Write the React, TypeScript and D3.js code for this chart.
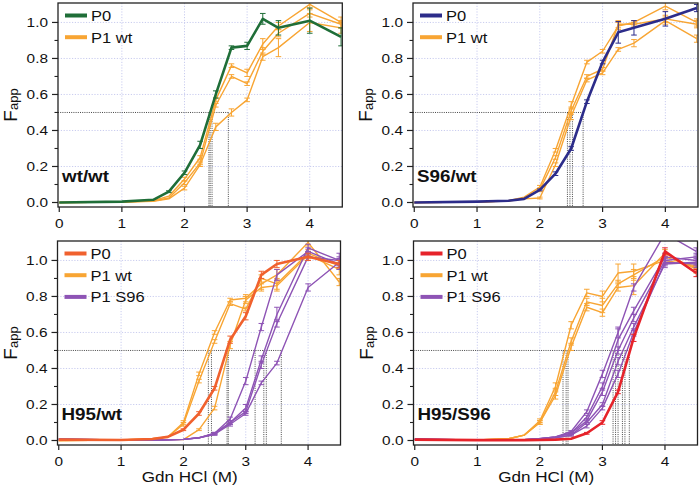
import React from "react";
import * as d3 from "d3";

// ---------- data ----------
const XS = [0, 1, 1.5, 1.75, 2, 2.25, 2.5, 2.75, 3, 3.25, 3.5, 4, 4.5];
const X_TICKS = [0, 1, 2, 3, 4];
const X_TICK_LABELS = ["0", "1", "2", "3", "4"];
const Y_TICKS = [0, 0.2, 0.4, 0.6, 0.8, 1.0];
const Y_TICK_LABELS = ["0.0", "0.2", "0.4", "0.6", "0.8", "1.0"];
const Y_MINOR = [0.1, 0.3, 0.5, 0.7, 0.9];
const PANEL_LABELS = ["wt/wt", "S96/wt", "H95/wt", "H95/S96"];
const X_TITLE = "Gdn HCl (M)";

// panel A: wt/wt
const A_P0 = [0, 0.005, 0.015, 0.06, 0.165, 0.32, 0.6, 0.86, 0.87, 1.02, 0.97, 1.01, 0.92];
const A_P0_ERR = [0, 0, 0, 0.005, 0.01, 0.02, 0.02, 0.01, 0.02, 0.03, 0.04, 0.07, 0.05];
const A_WT1 = [0, 0.003, 0.01, 0.035, 0.13, 0.25, 0.57, 0.76, 0.72, 0.88, 0.98, 1.1, 1.0];
const A_WT1_ERR = [0, 0, 0, 0, 0.01, 0.01, 0.01, 0.01, 0.02, 0.03, 0.02, 0.02, 0.03];
const A_WT2 = [0, 0.003, 0.008, 0.025, 0.11, 0.22, 0.54, 0.7, 0.66, 0.84, 0.94, 1.05, 0.99];
const A_WT2_ERR = [0, 0, 0, 0, 0.01, 0.01, 0.01, 0.01, 0.01, 0.02, 0.02, 0.02, 0.02];
const A_WT3 = [0, 0.002, 0.006, 0.02, 0.08, 0.21, 0.42, 0.5, 0.57, 0.81, 0.86, 1.0, 0.97];
const A_WT3_ERR = [0, 0, 0, 0, 0.01, 0.01, 0.02, 0.02, 0.01, 0.02, 0.05, 0.05, 0.03];
const A_MID = [2.39, 2.41, 2.44, 2.7];

// panel B: S96/wt
const B_P0 = [0, 0.005, 0.01, 0.02, 0.07, 0.16, 0.3, 0.56, 0.78, 0.945, 0.97, 1.02, 1.08];
const B_P0_ERR = [0, 0, 0, 0, 0.005, 0.01, 0.01, 0.01, 0.01, 0.06, 0.04, 0.04, 0.02];
const B_WT1 = [0, 0.003, 0.01, 0.03, 0.085, 0.29, 0.54, 0.78, 0.84, 0.98, 1.0, 1.09, 1.0];
const B_WT1_ERR = [0, 0, 0, 0, 0.01, 0.01, 0.02, 0.01, 0.01, 0.02, 0.01, 0.02, 0.02];
const B_WT2 = [0, 0.003, 0.01, 0.025, 0.07, 0.25, 0.51, 0.7, 0.74, 0.99, 0.99, 1.02, 0.99];
const B_WT2_ERR = [0, 0, 0, 0, 0.01, 0.01, 0.02, 0.01, 0.01, 0.02, 0.01, 0.02, 0.02];
const B_WT3 = [0, 0.002, 0.008, 0.02, 0.025, 0.21, 0.48, 0.68, 0.72, 0.85, 0.885, 1.01, 0.91];
const B_WT3_ERR = [0, 0, 0, 0, 0.005, 0.01, 0.02, 0.01, 0.01, 0.01, 0.02, 0.02, 0.02];
const B_MID = [2.44, 2.48, 2.52, 2.69];

// panel C: H95/wt
const C_P0 = [0.005, 0.003, 0.008, 0.02, 0.06, 0.15, 0.29, 0.56, 0.69, 0.92, 0.98, 1.02, 0.98];
const C_P0_ERR = [0, 0, 0, 0, 0.005, 0.01, 0.01, 0.02, 0.02, 0.02, 0.02, 0.02, 0.02];
const C_WT1 = [0, 0.003, 0.01, 0.02, 0.1, 0.37, 0.6, 0.78, 0.79, 0.87, 0.92, 1.1, 0.88];
const C_WT1_ERR = [0, 0, 0, 0, 0.01, 0.01, 0.01, 0.01, 0.02, 0.03, 0.03, 0.02, 0.02];
const C_WT2 = [0, 0.003, 0.01, 0.02, 0.09, 0.33, 0.55, 0.76, 0.73, 0.9, 0.87, 1.04, 0.97];
const C_WT2_ERR = [0, 0, 0, 0, 0.01, 0.01, 0.01, 0.01, 0.01, 0.02, 0.03, 0.02, 0.02];
const C_WT3 = [0, 0.002, 0.004, 0.005, 0.005, 0.06, 0.18, 0.53, 0.78, 0.85, 0.86, 1.03, 0.95];
const C_WT3_ERR = [0, 0, 0, 0, 0, 0.005, 0.01, 0.02, 0.02, 0.02, 0.03, 0.02, 0.03];
const C_S1 = [0.01, 0.002, 0.003, 0.004, 0.006, 0.015, 0.04, 0.12, 0.33, 0.63, 0.92, 1.05, 0.98];
const C_S1_ERR = [0, 0, 0, 0, 0, 0, 0.005, 0.01, 0.02, 0.02, 0.03, 0.02, 0.03];
const C_S2 = [0.01, 0.002, 0.003, 0.004, 0.006, 0.015, 0.04, 0.1, 0.18, 0.45, 0.7, 1.07, 1.0];
const C_S2_ERR = [0, 0, 0, 0, 0, 0, 0.005, 0.01, 0.02, 0.02, 0.04, 0.02, 0.04];
const C_S3 = [0.005, 0.002, 0.003, 0.004, 0.006, 0.015, 0.035, 0.1, 0.16, 0.42, 0.65, 1.02, 1.0];
const C_S3_ERR = [0, 0, 0, 0, 0, 0, 0.005, 0.01, 0.01, 0.02, 0.02, 0.02, 0.02];
const C_S4 = [0.005, 0.002, 0.003, 0.004, 0.006, 0.015, 0.035, 0.09, 0.15, 0.32, 0.43, 0.85, 0.99];
const C_S4_ERR = [0, 0, 0, 0, 0, 0, 0.005, 0.01, 0.01, 0.01, 0.01, 0.02, 0.02];
const C_MID = [2.4, 2.45, 2.7, 2.72, 3.15, 3.29, 3.33, 3.57];

// panel D: H95/S96
const D_P0 = [0.005, 0.002, 0.002, 0.002, 0.003, 0.005, 0.01, 0.04, 0.1, 0.27, 0.57, 1.05, 0.93];
const D_P0_ERR = [0, 0, 0, 0, 0, 0, 0, 0.005, 0.01, 0.01, 0.02, 0.02, 0.02];
const D_WT1 = [0.005, 0.003, 0.01, 0.03, 0.11, 0.3, 0.64, 0.82, 0.8, 0.93, 0.94, 1.0, 0.97];
const D_WT1_ERR = [0, 0, 0, 0, 0.01, 0.02, 0.02, 0.02, 0.03, 0.05, 0.04, 0.02, 0.02];
const D_WT2 = [0.005, 0.003, 0.01, 0.03, 0.1, 0.27, 0.55, 0.77, 0.75, 0.87, 0.92, 1.02, 0.96];
const D_WT2_ERR = [0, 0, 0, 0, 0.01, 0.02, 0.02, 0.02, 0.04, 0.02, 0.03, 0.02, 0.02];
const D_WT3 = [0.005, 0.003, 0.01, 0.03, 0.1, 0.25, 0.52, 0.74, 0.71, 0.85, 0.86, 1.04, 0.95];
const D_WT3_ERR = [0, 0, 0, 0, 0.01, 0.02, 0.02, 0.02, 0.02, 0.02, 0.05, 0.02, 0.02];
const D_S1 = [0.01, 0.002, 0.003, 0.005, 0.01, 0.02, 0.05, 0.16, 0.37, 0.6, 0.85, 1.15, 1.05];
const D_S1_ERR = [0, 0, 0, 0, 0, 0, 0.005, 0.01, 0.02, 0.03, 0.02, 0.02, 0.02];
const D_S2 = [0.01, 0.002, 0.003, 0.005, 0.01, 0.02, 0.04, 0.13, 0.3, 0.56, 0.72, 1.02, 1.0];
const D_S2_ERR = [0, 0, 0, 0, 0, 0, 0.005, 0.01, 0.02, 0.06, 0.02, 0.02, 0.02];
const D_S3 = [0.005, 0.002, 0.003, 0.005, 0.01, 0.02, 0.04, 0.11, 0.27, 0.5, 0.68, 1.0, 1.02];
const D_S3_ERR = [0, 0, 0, 0, 0, 0, 0.005, 0.01, 0.02, 0.02, 0.02, 0.02, 0.02];
const D_S4 = [0.005, 0.002, 0.003, 0.005, 0.01, 0.015, 0.03, 0.1, 0.2, 0.44, 0.63, 0.98, 0.99];
const D_S4_ERR = [0, 0, 0, 0, 0, 0, 0.005, 0.01, 0.01, 0.02, 0.02, 0.02, 0.02];
const D_S5 = [0.005, 0.002, 0.003, 0.005, 0.01, 0.015, 0.03, 0.08, 0.18, 0.37, 0.6, 0.99, 0.98];
const D_S5_ERR = [0, 0, 0, 0, 0, 0, 0.005, 0.01, 0.01, 0.02, 0.02, 0.02, 0.02];
const D_MID = [2.37, 2.42, 2.45, 3.17, 3.21, 3.25, 3.32, 3.36, 3.43];

// ---------- styles ----------
const P0_COLORS = ["#1f6e38", "#2c2c8a", "#f0612e", "#e6232a"];
const WT_COLOR = "#f8a533";
const S96_COLOR = "#8e54b5";
const GRID_COLOR = "#c9ccef";
const FONT = "'Liberation Sans', Arial, Helvetica, sans-serif";
const SX = 1.14;

const BOXES = [
  { left: 58, right: 342.3, top: 3, bottom: 207 },
  { left: 413, right: 698, top: 3, bottom: 207 },
  { left: 57.5, right: 340.5, top: 241, bottom: 445 },
  { left: 413.5, right: 697.5, top: 241, bottom: 445 },
];

type Series = { values: number[]; err: number[]; color: string; width: number };

const PANELS = [
  {
    p0: { values: A_P0, err: A_P0_ERR },
    wt: [[A_WT1, A_WT1_ERR], [A_WT2, A_WT2_ERR], [A_WT3, A_WT3_ERR]],
    s96: [] as number[][][],
    mids: A_MID,
  },
  {
    p0: { values: B_P0, err: B_P0_ERR },
    wt: [[B_WT1, B_WT1_ERR], [B_WT2, B_WT2_ERR], [B_WT3, B_WT3_ERR]],
    s96: [] as number[][][],
    mids: B_MID,
  },
  {
    p0: { values: C_P0, err: C_P0_ERR },
    wt: [[C_WT1, C_WT1_ERR], [C_WT2, C_WT2_ERR], [C_WT3, C_WT3_ERR]],
    s96: [[C_S1, C_S1_ERR], [C_S2, C_S2_ERR], [C_S3, C_S3_ERR], [C_S4, C_S4_ERR]],
    mids: C_MID,
  },
  {
    p0: { values: D_P0, err: D_P0_ERR },
    wt: [[D_WT1, D_WT1_ERR], [D_WT2, D_WT2_ERR], [D_WT3, D_WT3_ERR]],
    s96: [[D_S1, D_S1_ERR], [D_S2, D_S2_ERR], [D_S3, D_S3_ERR], [D_S4, D_S4_ERR], [D_S5, D_S5_ERR]],
    mids: D_MID,
  },
];

function Txt(props: {
  x: number; y: number; size: number; anchor?: string; weight?: string | number; children: any; fill?: string;
}) {
  const { x, y, size, anchor = "start", weight = "normal", children, fill = "#111" } = props;
  return (
    <g transform={`translate(${x},${y}) scale(${SX},1)`}>
      <text x={0} y={0} fontSize={size} fontFamily={FONT} fontWeight={weight} textAnchor={anchor} fill={fill}>
        {children}
      </text>
    </g>
  );
}

function Panel({ idx }: { idx: number }) {
  const box = BOXES[idx];
  const pd = PANELS[idx];
  const x = d3.scaleLinear().domain([-0.02, 4.52]).range([box.left, box.right]);
  const y = d3.scaleLinear().domain([-0.025, 1.108]).range([box.bottom, box.top]);
  const line = d3
    .line<[number, number]>()
    .x((d) => x(d[0]))
    .y((d) => y(d[1]));

  const series: Series[] = [];
  pd.wt.forEach((s) => series.push({ values: s[0], err: s[1], color: WT_COLOR, width: 1.4 }));
  pd.s96.forEach((s) => series.push({ values: s[0], err: s[1], color: S96_COLOR, width: 1.4 }));
  series.push({ values: pd.p0.values, err: pd.p0.err, color: P0_COLORS[idx], width: 2.6 });

  const clipId = `clip${idx}`;
  const legend =
    pd.s96.length > 0
      ? [
          { label: "P0", color: P0_COLORS[idx] },
          { label: "P1 wt", color: WT_COLOR },
          { label: "P1 S96", color: S96_COLOR },
        ]
      : [
          { label: "P0", color: P0_COLORS[idx] },
          { label: "P1 wt", color: WT_COLOR },
        ];
  const maxMid = d3.max(pd.mids) as number;
  const isBottom = idx >= 2;
  const midY = (box.top + box.bottom) / 2;

  return (
    <g>
      <defs>
        <clipPath id={clipId}>
          <rect x={box.left} y={box.top} width={box.right - box.left} height={box.bottom - box.top} />
        </clipPath>
      </defs>
      {/* grid */}
      {[1, 2, 3, 4].map((t) => (
        <line key={"gx" + t} x1={x(t)} x2={x(t)} y1={box.top} y2={box.bottom} stroke={GRID_COLOR} strokeWidth={1} strokeDasharray="1.2 1.6" />
      ))}
      {[0.2, 0.4, 0.6, 0.8, 1.0].map((t) => (
        <line key={"gy" + t} x1={box.left} x2={box.right} y1={y(t)} y2={y(t)} stroke={GRID_COLOR} strokeWidth={1} strokeDasharray="1.2 1.6" />
      ))}
      {/* midpoint guides */}
      <line x1={box.left} x2={x(maxMid)} y1={y(0.5)} y2={y(0.5)} stroke="#333" strokeWidth={0.9} strokeDasharray="1 1.2" />
      {pd.mids.map((m, i) => (
        <line key={"m" + i} x1={x(m)} x2={x(m)} y1={y(0.5)} y2={box.bottom} stroke="#333" strokeWidth={0.9} strokeDasharray="1 1.2" />
      ))}
      {/* data */}
      <g clipPath={`url(#${clipId})`}>
        {series.map((s, si) => {
          const pts = XS.map((xv, i) => [xv, s.values[i]] as [number, number]);
          return (
            <g key={"s" + si}>
              <path d={line(pts) || ""} fill="none" stroke={s.color} strokeWidth={s.width} strokeLinejoin="round" />
              {pts.map((p, i) =>
                s.err[i] > 0 ? (
                  <g key={"e" + i} stroke={s.color} strokeWidth={1}>
                    <line x1={x(p[0])} x2={x(p[0])} y1={y(p[1] - s.err[i])} y2={y(p[1] + s.err[i])} />
                    <line x1={x(p[0]) - 2.8} x2={x(p[0]) + 2.8} y1={y(p[1] + s.err[i])} y2={y(p[1] + s.err[i])} />
                    <line x1={x(p[0]) - 2.8} x2={x(p[0]) + 2.8} y1={y(p[1] - s.err[i])} y2={y(p[1] - s.err[i])} />
                  </g>
                ) : null
              )}
            </g>
          );
        })}
      </g>
      {/* frame */}
      <rect x={box.left} y={box.top} width={box.right - box.left} height={box.bottom - box.top} fill="none" stroke="#222" strokeWidth={1.3} />
      {/* y ticks */}
      {Y_TICKS.map((t, i) => (
        <g key={"yt" + i}>
          <line x1={box.left - 6} x2={box.left} y1={y(t)} y2={y(t)} stroke="#222" strokeWidth={1.2} />
          <Txt x={box.left - 10} y={y(t) + 4.7} size={13.5} anchor="end">
            {Y_TICK_LABELS[i]}
          </Txt>
        </g>
      ))}
      {Y_MINOR.map((t, i) => (
        <line key={"ym" + i} x1={box.left - 3.5} x2={box.left} y1={y(t)} y2={y(t)} stroke="#222" strokeWidth={1.1} />
      ))}
      {/* x ticks */}
      {X_TICKS.map((t, i) => (
        <g key={"xt" + i}>
          <line x1={x(t)} x2={x(t)} y1={box.bottom} y2={box.bottom + 5} stroke="#222" strokeWidth={1.2} />
          <Txt x={x(t)} y={box.bottom + 20.5} size={13.5} anchor="middle">
            {X_TICK_LABELS[i]}
          </Txt>
        </g>
      ))}
      {isBottom && (
        <Txt x={x(2.1)} y={box.bottom + 37} size={15} anchor="middle">
          {X_TITLE}
        </Txt>
      )}
      {/* y title */}
      <g transform={`translate(${box.left - 41},${midY}) rotate(-90)`}>
        <text x={0} y={0} textAnchor="middle" fontFamily={FONT} fill="#111">
          <tspan fontSize={19}>F</tspan>
          <tspan fontSize={13} dy={1}>app</tspan>
        </text>
      </g>
      {/* panel label */}
      <Txt x={box.left + 4} y={box.bottom - 25} size={16.5} weight="bold">
        {PANEL_LABELS[idx]}
      </Txt>
      {/* legend */}
      {legend.map((l, i) => {
        const ly = box.top + 12.5 + i * 21.7;
        return (
          <g key={"lg" + i}>
            <line x1={box.left + 7} x2={box.left + 29} y1={ly} y2={ly} stroke={l.color} strokeWidth={4} />
            <Txt x={box.left + 33} y={ly + 5.3} size={14.5}>
              {l.label}
            </Txt>
          </g>
        );
      })}
    </g>
  );
}

export default function App() {
  return (
    <svg
      width={700}
      height={487}
      viewBox="0 0 700 487"
      style={{ position: "absolute", left: 0, top: 0, background: "#fff" }}
    >
      <rect x={0} y={0} width={700} height={487} fill="#fff" />
      {[0, 1, 2, 3].map((i) => (
        <Panel key={i} idx={i} />
      ))}
    </svg>
  );
}
